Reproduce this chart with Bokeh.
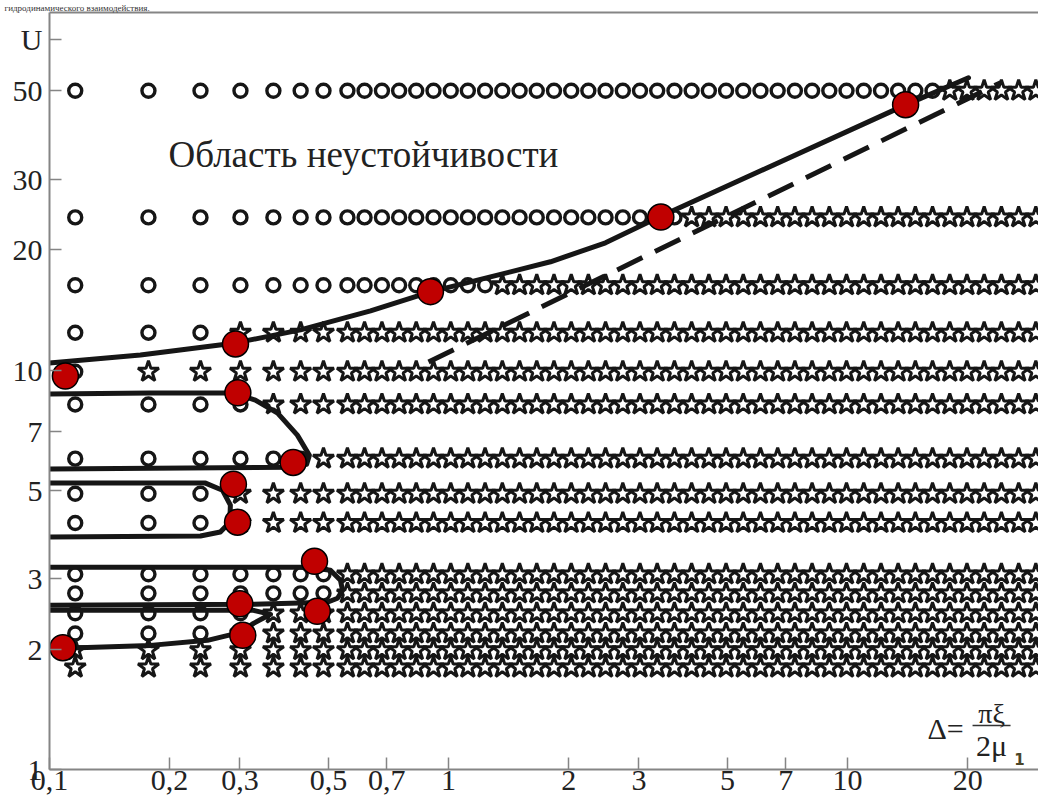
from bokeh.plotting import figure
from bokeh.models import Range1d, FixedTicker, CustomJSTickFormatter, Label, LogAxis
from bokeh.embed import file_html
from bokeh.resources import INLINE

# ---------------- data ----------------
# Δ grid (columns of computed points)
DELTA_COLS = [0.116, 0.177, 0.239, 0.301, 0.364, 0.426, 0.486, 0.558,
              0.616, 0.681, 0.752, 0.830, 0.917, 1.013, 1.118, 1.235, 1.364,
              1.507, 1.664, 1.838, 2.030, 2.241, 2.475, 2.734, 3.019, 3.334,
              3.683, 4.067, 4.492, 4.961, 5.478, 6.050, 6.682, 7.380, 8.150,
              9.001, 9.941, 10.98, 12.13, 13.39, 14.79, 16.33, 18.04, 19.92,
              22.00, 24.30, 26.84, 29.64]
# U levels (rows)
U_ROWS = [50, 24.1, 16.3, 12.4, 9.9, 8.2, 6.0, 4.9, 4.14, 3.08, 2.76, 2.46, 2.19, 1.99, 1.80]
# number of leading columns in each row that are unstable (circles); the rest are stars
N_UNSTABLE = [42, 27, 16, 3, 1, 4, 6, 3, 3, 7, 7, 4, 3, 0, 0]

# boundary curves
UPPER_D = [0.1, 0.169, 0.2925, 0.4257, 0.6375, 0.901, 1.274, 1.801, 2.474, 3.34, 13.98, 20.1]
UPPER_U = [10.41, 10.9, 11.69, 12.60, 14.06, 15.69, 17.10, 18.66, 20.81, 24.04, 46.1, 53.9]
DASH_D = [0.891, 24.2]
DASH_U = [10.47, 52.4]
LOOP1_D = [0.1, 0.179, 0.289, 0.328, 0.373, 0.418, 0.448, 0.441, 0.402, 0.1]
LOOP1_U = [8.71, 8.76, 8.76, 8.41, 7.80, 6.87, 6.12, 5.81, 5.71, 5.65]
LOOP2_D = [0.1, 0.246, 0.2714, 0.284, 0.283, 0.268, 0.2389, 0.1]
LOOP2_U = [5.21, 5.21, 5.00, 4.59, 4.16, 3.93, 3.84, 3.82]
LOOP3_D = [0.1, 0.443, 0.506, 0.536, 0.5425, 0.527, 0.497, 0.3246, 0.1]
LOOP3_U = [3.209, 3.209, 3.152, 2.976, 2.809, 2.683, 2.622, 2.592, 2.577]
LOOP4_D = [0.1, 0.2842, 0.3246, 0.358, 0.3246, 0.3011, 0.2489, 0.179, 0.1084]
LOOP4_U = [2.503, 2.503, 2.503, 2.446, 2.322, 2.204, 2.105, 2.045, 2.010]

# highlighted points (red)
RED_D = [0.1096, 0.2925, 0.2965, 0.408, 0.289, 0.296, 0.4615, 0.2999, 0.4688,
         0.3051, 0.108, 0.901, 3.405, 13.98]
RED_U = [9.66, 11.62, 8.77, 5.87, 5.18, 4.16, 3.32, 2.60, 2.489, 2.167, 2.018,
         15.71, 24.14, 46.14]

X_TICKS = [0.1, 0.2, 0.3, 0.5, 0.7, 1, 2, 3, 5, 7, 10, 20]
Y_TICKS = [1, 2, 3, 5, 7, 10, 20, 30, 50]
Y_NAME = "U"
Y_NAME_AT = 67.1   # height of the axis name, in U units
TOP_TEXT = "гидродинамического взаимодействия."

# ---------------- build ----------------
circ_x, circ_y, star_x, star_y = [], [], [], []
for u, n in zip(U_ROWS, N_UNSTABLE):
    for k, d in enumerate(DELTA_COLS):
        if k < n:
            circ_x.append(d); circ_y.append(u)
        else:
            star_x.append(d); star_y.append(u)

SERIF = "Liberation Serif"
INK = "#161616"
AXIS_GREY = "#858585"

p = figure(width=1038, height=803, x_axis_type="log", y_axis_type="log",
           x_range=Range1d(0.1, 30.1), y_range=Range1d(1, 78.5),
           output_backend="svg", toolbar_location=None,
           min_border_left=49, min_border_right=0, min_border_top=11,
           min_border_bottom=34)
p.grid.visible = False
p.outline_line_color = None
p.background_fill_color = "white"

# cropped line of running text above the figure
p.title.text = TOP_TEXT
p.title.text_font = SERIF
p.title.text_font_size = "9px"
p.title.text_font_style = "normal"
p.title.text_color = "#333333"
p.title.align = "left"
p.title.standoff = 0
p.title.offset = -45

for ax, ticks in ((p.xaxis, X_TICKS), (p.yaxis, Y_TICKS + [Y_NAME_AT])):
    ax.ticker = FixedTicker(ticks=ticks)
    ax.axis_line_color = AXIS_GREY
    ax.axis_line_width = 2
    ax.major_tick_line_color = AXIS_GREY
    ax.major_tick_line_width = 1.5
    ax.major_tick_in = 12
    ax.major_tick_out = 0
    ax.minor_tick_line_color = None
    ax.major_label_text_font = SERIF
    ax.major_label_text_font_size = "30px"
    ax.major_label_text_color = "#222222"

p.xaxis.formatter = CustomJSTickFormatter(code="return String(tick).replace('.', ',');")
p.yaxis.formatter = CustomJSTickFormatter(
    args=dict(name=Y_NAME, at=Y_NAME_AT),
    code="return Math.abs(tick - at) < 1e-6 ? name : String(tick);")
p.xaxis.major_label_standoff = 1
p.yaxis.major_label_standoff = 7

top_ax = LogAxis(ticker=FixedTicker(ticks=[]), axis_line_color=AXIS_GREY, axis_line_width=2,
                 major_tick_line_color=None, minor_tick_line_color=None,
                 major_label_text_font_size="0px", major_tick_out=0, major_tick_in=0,
                 major_label_standoff=0)
p.add_layout(top_ax, "above")

# markers
p.scatter(circ_x, circ_y, marker="circle", size=13, fill_color=None,
          line_color=INK, line_width=3.4)
p.scatter(star_x, star_y, marker="star", size=22, fill_color=None,
          line_color=INK, line_width=3)

# curves
for xs, ys in ((UPPER_D, UPPER_U), (LOOP1_D, LOOP1_U), (LOOP2_D, LOOP2_U),
               (LOOP3_D, LOOP3_U), (LOOP4_D, LOOP4_U)):
    p.line(xs, ys, line_width=5, line_color=INK, line_join="round", line_cap="round")
p.line(DASH_D, DASH_U, line_width=5, line_color=INK, line_dash="28 14")

# red points
p.scatter(RED_D, RED_U, marker="circle", size=26, fill_color="#c00000",
          line_color="black", line_width=1.5)

# ---------------- annotations ----------------
def px2d(px, py):
    return 10 ** (-1 + (px - 49) / 399.0), 10 ** ((769 - py) / 399.0)

def add_label(px, py, text, size, align="left", baseline="middle", font=SERIF,
              color="#222222", style="normal"):
    x, y = px2d(px, py)
    p.add_layout(Label(x=x, y=y, text=text, text_font=font, text_font_size=size,
                       text_align=align, text_baseline=baseline, text_color=color,
                       text_font_style=style))

add_label(168, 155, "Область неустойчивости", "37px")
add_label(927, 728, "Δ=", "30px")
add_label(991, 713, "πξ", "28px", align="center")
add_label(991, 745, "2μ", "30px", align="center")
add_label(1019, 759, "1", "15px", align="center", font="DejaVu Sans",
          color="#4b4528", style="bold")
bx0, by = px2d(972, 725)
bx1, _ = px2d(1010, 725)
p.line([bx0, bx1], [by, by], line_width=1.5, line_color="#333333")

open("out.html", "w").write(file_html(p, INLINE))
